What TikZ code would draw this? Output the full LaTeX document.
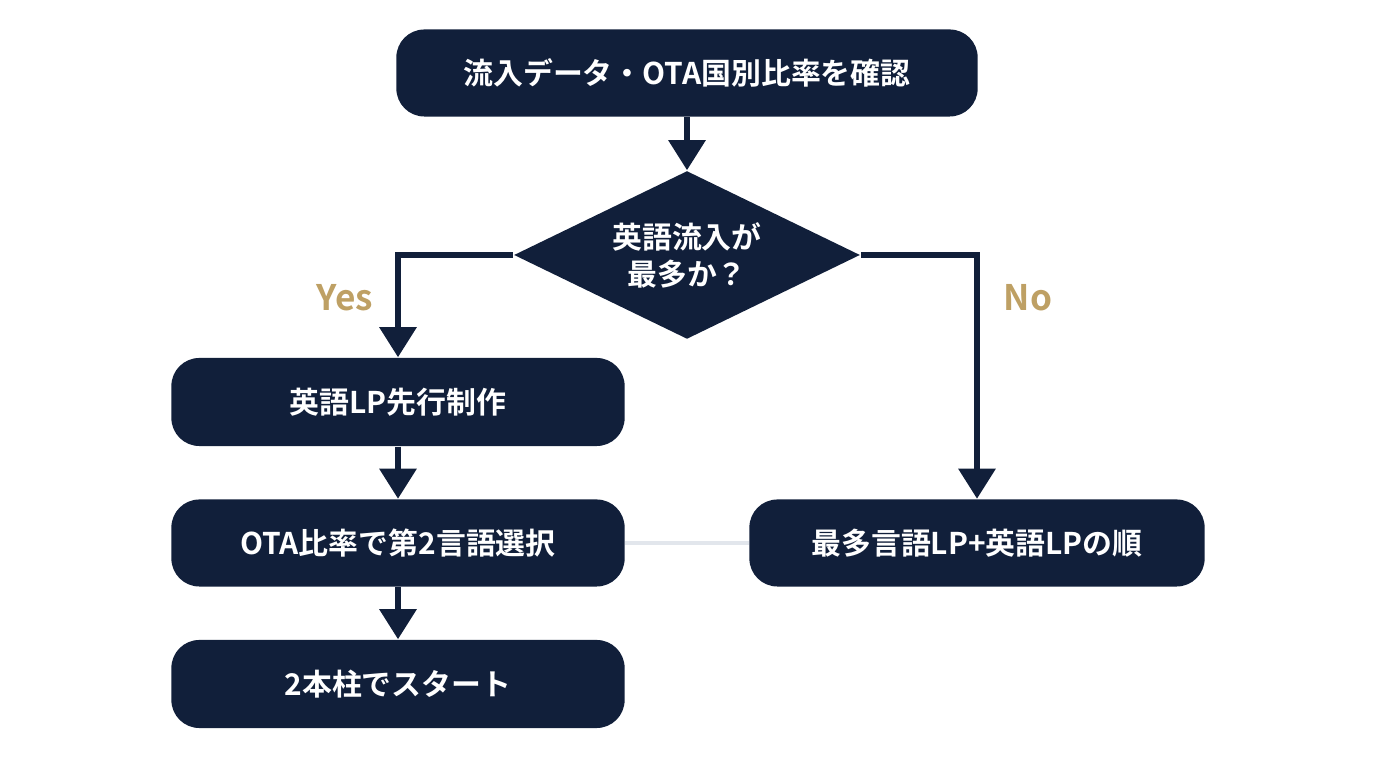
\documentclass[tikz,border=0pt]{standalone}
\usepackage{fontspec}
\setmainfont{Noto Sans CJK JP}[BoldFont={* Bold}]
\usetikzlibrary{shapes.geometric,arrows.meta}
\definecolor{navy}{RGB}{17,31,58}
\definecolor{gold}{RGB}{190,160,100}
\definecolor{pale}{RGB}{226,230,236}
\tikzset{
  box/.style={fill=navy, rounded corners=0.28cm, text=white, font=\bfseries\fontsize{8.5}{10}\selectfont, align=center},
  flow/.style={navy, line width=1.7pt, -{Triangle[length=0.3cm,width=0.36cm]}},
  answer/.style={text=gold, font=\bfseries\fontsize{10}{12}\selectfont}
}
\begin{document}
\begin{tikzpicture}[x=0.01cm,y=-0.01cm]
  \useasboundingbox (0,0) rectangle (1376,768);
  % Boxes
  \node[box, minimum width=5.81cm, minimum height=0.87cm] (check) at (687,73) {流入データ・OTA国別比率を確認};
  \node[diamond, fill=navy, text=white, font=\bfseries\fontsize{8.5}{10.5}\selectfont, align=center,
        minimum width=3.46cm, minimum height=1.68cm, inner sep=0pt, aspect=2.06] (ask) at (687,255) {英語流入が\\最多か？};
  \node[box, minimum width=4.53cm, minimum height=0.88cm] (eng) at (398,402) {英語LP先行制作};
  \node[box, minimum width=4.53cm, minimum height=0.87cm] (second) at (398,543) {OTA比率で第2言語選択};
  \node[box, minimum width=4.53cm, minimum height=0.88cm] (start) at (398,684) {2本柱でスタート};
  \node[box, minimum width=4.55cm, minimum height=0.87cm] (most) at (977,543) {最多言語LP+英語LPの順};
  % Connectors
  \draw[pale, line width=1.2pt] (second.east) -- (most.west);
  \draw[flow] (check) -- (ask);
  \draw[flow] (ask.west) -| (eng.north);
  \draw[flow] (ask.east) -| (most.north);
  \draw[flow] (eng) -- (second);
  \draw[flow] (second) -- (start);
  % Labels
  \node[answer] (yes) at (345,298) {Yes};
  \node[answer] (no) at (1028,298) {No};
\end{tikzpicture}
\end{document}
